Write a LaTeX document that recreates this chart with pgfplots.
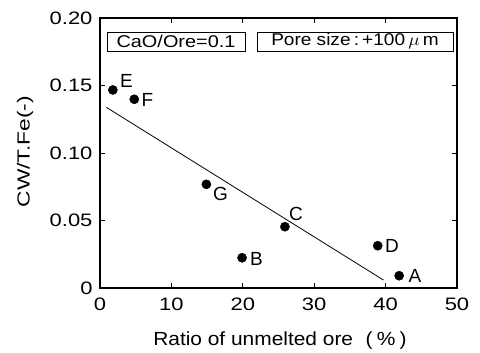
\documentclass[border=0pt]{standalone}
\usepackage{pgfplots}
\pgfplotsset{compat=1.18}
\usepackage{fontspec}
\setmainfont{Liberation Sans}
\newcommand\sx[1]{\scalebox{1.22}[1]{#1}}
\begin{document}
\begin{tikzpicture}
\useasboundingbox (-100pt,-65pt) rectangle (380pt,288pt);
\begin{axis}[
  at={(0pt,0pt)}, anchor=south west,
  scale only axis, width=357pt, height=270pt,
  xmin=0, xmax=50, ymin=0, ymax=0.2,
  xtick={0,10,20,30,40,50},
  xticklabels={\sx{0},\sx{10},\sx{20},\sx{30},\sx{40},\sx{50}},
  ytick={0,0.05,0.1,0.15,0.2},
  yticklabels={\sx{0},\sx{0.05},\sx{0.10},\sx{0.15},\sx{0.20}},
  tick align=inside, major tick length=5pt,
  tick style={black, line width=0.8pt},
  axis line style={line width=1.1pt},
  ticklabel style={font=\fontsize{18}{18}\selectfont},
  xticklabel style={yshift=-6pt},
  yticklabel style={xshift=-4pt},
  xlabel={\scalebox{1.1}[1]{Ratio of unmelted ore\hspace{0.6em}(\hspace{0.2em}\%\hspace{0.2em})}},
  xlabel style={font=\fontsize{19}{19}\selectfont, at={(axis description cs:0.504,-0.196)}, anchor=center},
  ylabel={\scalebox{1.3}[1]{CW/T.Fe(-)}},
  ylabel style={font=\fontsize{17.5}{17.5}\selectfont, at={(axis description cs:-0.21,0.505)}, anchor=center},
  clip=false,
]
\addplot[black, line width=0.8pt] coordinates {(0.9,0.1338) (39.7,0.0059)};
\addplot[only marks, mark=*, mark size=4.6pt, black] coordinates {
  (1.8,0.1467) (4.8,0.1398) (14.9,0.0768) (25.9,0.0454)
  (19.9,0.0224) (38.9,0.0313) (41.9,0.0091)
};
\begin{scope}[every node/.style={font=\fontsize{19}{19}\selectfont, anchor=center, inner sep=0pt}]
\node at (axis cs:3.71,0.153) {E};
\node at (axis cs:6.65,0.1393) {F};
\node at (axis cs:16.88,0.0700) {G};
\node at (axis cs:27.45,0.0552) {C};
\node at (axis cs:21.92,0.0215) {B};
\node at (axis cs:40.9,0.0311) {D};
\node at (axis cs:44.1,0.0089) {A};
\end{scope}
\draw[line width=0.7pt] (axis cs:0.98,0.1756) rectangle (axis cs:20.31,0.1896);
\draw[line width=0.7pt] (axis cs:21.99,0.1756) rectangle (axis cs:49.44,0.1896);
\node[font=\fontsize{17}{17}\selectfont, anchor=center] at (axis cs:10.645,0.1826) {\scalebox{1.17}[1]{CaO/Ore=0.1}};
\node[font=\fontsize{17}{17}\selectfont, anchor=center] at (axis cs:35.715,0.1826) {\scalebox{1.12}[1]{Pore size\,:\,+100\,$\mu$\,m}};
\end{axis}
\end{tikzpicture}
\end{document}
